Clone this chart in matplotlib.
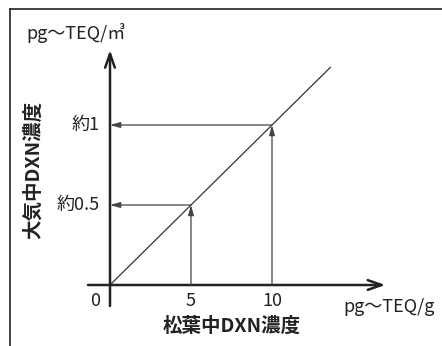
import matplotlib
matplotlib.use("Agg")
import matplotlib.pyplot as plt
from matplotlib.lines import Line2D

plt.rcParams["font.family"] = ["Noto Sans CJK JP", "DejaVu Sans"]

# данные схемы
x_marks = [5, 10]
y_marks = [0.5, 1.0]
x_tick_labels = ["5", "10"]
y_tick_labels = ["約0.5", "約1"]
line_x = [0, 13.6]
line_y = [0, 1.36]
x_unit = "pg〜TEQ/g"
y_unit = "pg〜TEQ/㎥"
x_title = "松葉中DXN濃度"
y_title = "大気中DXN濃度"

W, H = 442, 346
fig = plt.figure(figsize=(W / 100, H / 100), dpi=100)
ax = fig.add_axes([0, 0, 1, 1])
ax.set_axis_off()

# пиксель -> данные: px = 110 + 16.2*x, py = 285 - 160*y
sx, ox = 16.2, 110
sy, oy = 160, 285
ax.set_xlim(-ox / sx, (W - ox) / sx)
ax.set_ylim((oy - H) / sy, oy / sy)

# рамка
fig.add_artist(Line2D([10 / W, 1], [1 - 9 / H] * 2, color="#222", lw=1.2))
fig.add_artist(Line2D([10 / W] * 2, [0, 1 - 9 / H], color="#222", lw=1.2))

# оси со стрелками
ax.annotate("", xy=(17.0, 0), xytext=(-22 / sx, 0),
            arrowprops=dict(arrowstyle="->,head_length=1.0,head_width=0.35",
                            lw=1.8, color="#222", shrinkA=0, shrinkB=0))
ax.annotate("", xy=(0, (oy - 50) / sy), xytext=(0, (oy - 306) / sy),
            arrowprops=dict(arrowstyle="->,head_length=1.0,head_width=0.35",
                            lw=1.8, color="#222", shrinkA=0, shrinkB=0))

# прямая
ax.plot(line_x, line_y, color="#333", lw=0.9)

# направляющие стрелки
for xm, ym in zip(x_marks, y_marks):
    ax.annotate("", xy=(xm, ym), xytext=(xm, 0),
                arrowprops=dict(arrowstyle="-|>,head_length=0.6,head_width=0.17",
                                lw=0.9, color="#444", shrinkA=0, shrinkB=0))
    ax.annotate("", xy=(0, ym), xytext=(xm, ym),
                arrowprops=dict(arrowstyle="-|>,head_length=0.6,head_width=0.17",
                                lw=0.9, color="#444", shrinkA=0, shrinkB=0))

# подписи
ax.text(-15 / sx, -16 / sy, "0", ha="center", va="center", fontsize=13, color="#222")
for xm, lab in zip(x_marks, x_tick_labels):
    ax.text(xm, -16 / sy, lab, ha="center", va="center", fontsize=13, color="#222")
for ym, lab in zip(y_marks, y_tick_labels):
    ax.text(-10 / sx, ym, lab, ha="right", va="center", fontsize=13, color="#222")

ax.text((389 - ox) / sx, (oy - 307) / sy, x_unit, ha="center", va="center",
        fontsize=13, color="#222")
ax.text((76 - ox) / sx, (oy - 33) / sy, y_unit, ha="center", va="center",
        fontsize=13, color="#222")
ax.text((232 - ox) / sx, (oy - 326) / sy, x_title, ha="center", va="center",
        fontsize=14, fontweight="bold", color="#222")
ax.text((33 - ox) / sx, (oy - 170) / sy, y_title, ha="center", va="center",
        fontsize=14, fontweight="bold", rotation=90, color="#222")

fig.savefig("out.png", dpi=100)
